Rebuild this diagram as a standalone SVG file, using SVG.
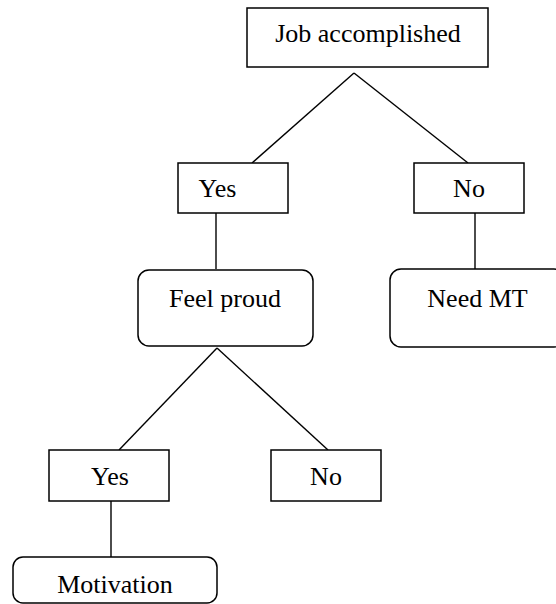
<svg xmlns="http://www.w3.org/2000/svg" width="556" height="604" viewBox="0 0 556 604">
  <style>
    .box { fill: #ffffff; stroke: #000000; stroke-width: 1.5; }
    .edge { fill: none; stroke: #000000; stroke-width: 1.4; }
    .label { font-family: "Liberation Serif", "Times New Roman", serif; font-size: 26px; fill: #000000; }
  </style>
  <rect x="0" y="0" width="556" height="604" fill="#ffffff"/>

  <!-- connectors -->
  <g id="connectors">
    <line class="edge" x1="354" y1="73" x2="252" y2="163"/>
    <line class="edge" x1="354" y1="73" x2="468" y2="163"/>
    <line class="edge" x1="216" y1="210" x2="216" y2="269"/>
    <line class="edge" x1="475" y1="210" x2="475" y2="273"/>
    <line class="edge" x1="217" y1="348" x2="119" y2="450"/>
    <line class="edge" x1="217" y1="348" x2="328" y2="450"/>
    <line class="edge" x1="111" y1="497" x2="111" y2="557"/>
  </g>

  <!-- nodes -->
  <g id="job-accomplished">
    <rect class="box" x="247" y="8" width="241" height="59"/>
    <text class="label" x="368" y="42" text-anchor="middle">Job accomplished</text>
  </g>

  <g id="yes-1">
    <rect class="box" x="178" y="163" width="110" height="50"/>
    <text class="label" x="217.5" y="197" text-anchor="middle">Yes</text>
  </g>

  <g id="no-1">
    <rect class="box" x="414" y="163" width="110" height="50"/>
    <text class="label" x="469" y="197" text-anchor="middle">No</text>
  </g>

  <g id="feel-proud">
    <rect class="box" x="138" y="270" width="175" height="76" rx="11" ry="11"/>
    <text class="label" x="225" y="307" text-anchor="middle">Feel proud</text>
  </g>

  <g id="need-mt">
    <rect class="box" x="390" y="269" width="175" height="78" rx="11" ry="11"/>
    <text class="label" x="477.5" y="307" text-anchor="middle">Need MT</text>
  </g>

  <g id="yes-2">
    <rect class="box" x="49" y="450" width="120" height="51"/>
    <text class="label" x="110" y="485" text-anchor="middle">Yes</text>
  </g>

  <g id="no-2">
    <rect class="box" x="271" y="450" width="110" height="51"/>
    <text class="label" x="326" y="485" text-anchor="middle">No</text>
  </g>

  <g id="motivation">
    <rect class="box" x="13" y="557" width="204" height="46" rx="10" ry="10"/>
    <text class="label" x="115" y="593" text-anchor="middle">Motivation</text>
  </g>
</svg>
